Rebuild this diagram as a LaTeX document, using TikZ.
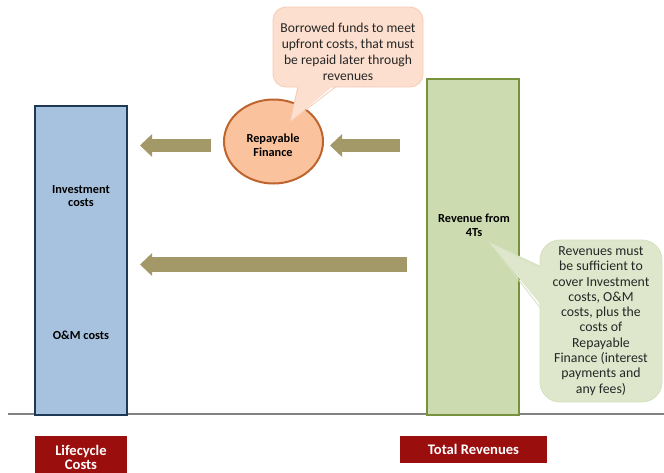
\documentclass[tikz,border=0pt]{standalone}
\usepackage{fontspec}
\setmainfont{Carlito}
\usetikzlibrary{arrows.meta,shapes.geometric}

\definecolor{costblue}{RGB}{167,194,222}
\definecolor{costedge}{RGB}{31,56,87}
\definecolor{revgreen}{RGB}{205,219,176}
\definecolor{revedge}{RGB}{118,146,60}
\definecolor{finfill}{RGB}{250,195,158}
\definecolor{finedge}{RGB}{190,100,45}
\definecolor{notepeach}{RGB}{252,223,206}
\definecolor{notepeachedge}{RGB}{247,203,178}
\definecolor{notegreen}{RGB}{222,231,204}
\definecolor{notegreenedge}{RGB}{212,224,190}
\definecolor{arrowkhaki}{RGB}{163,152,104}
\definecolor{tagred}{RGB}{155,14,14}
\definecolor{groundgray}{RGB}{130,130,130}

\tikzset{
  bar/.style={draw, line width=2pt, minimum width=92pt, inner sep=0pt},
  barlabel/.style={font=\bfseries\fontsize{12.3}{13.5}\selectfont, align=center, inner sep=0pt},
  tag/.style={fill=tagred, text=white, font=\bfseries\fontsize{14.6}{14}\selectfont, align=center, inner sep=0pt},
  notetext/.style={align=center, inner sep=0pt, text=black!85},
  fatarrow/.style={draw=arrowkhaki, line width=13pt, -{Triangle[length=12pt,width=22pt]}},
}

\begin{document}
\begin{tikzpicture}[x=1pt,y=-1pt]
		%%%%% START %%%%%
		\clip (0,0) rectangle (664,472);
		
		% ground line
		\draw[groundgray, line width=1.5pt] (8,414) -- (664,414);
		
		% the two bars
		\node[bar, fill=costblue, draw=costedge, minimum height=309pt] (lifecycle) at (81,260.5) {};
		\node[bar, fill=revgreen, draw=revedge, minimum height=336pt] (revenue) at (473,247) {};
		
		\node[barlabel] (invest) at (81,196) {Investment\\costs};
		\node[barlabel] (om) at (81,335) {O\&M costs};
		\node[barlabel] (fourts) at (474,225.5) {Revenue from\\4Ts};
		
		% repayable finance
		\node[ellipse, draw=finedge, fill=finfill, line width=2pt, minimum width=99pt, minimum height=84pt, inner sep=0pt] (finance) at (273.5,141.5) {};
		\node[barlabel] (finlabel) at (273,145) {Repayable\\Finance};
		
		% arrows
		\coordinate (topin) at (400,145.5);
		\coordinate (topintip) at (330,145.5);
		\coordinate (topout) at (211,145.5);
		\coordinate (topouttip) at (140,145.5);
		\coordinate (lowout) at (407,264.5);
		\coordinate (lowouttip) at (140,264.5);
		\draw[fatarrow] (topin) -- (topintip);
		\draw[fatarrow] (topout) -- (topouttip);
		\draw[fatarrow, line width=15pt] (lowout) -- (lowouttip);
		
		% callout over the finance
		\node[draw=notepeachedge, fill=notepeach, line width=0.8pt, rounded corners=13pt, minimum width=150pt, minimum height=80pt, inner sep=0pt] (borrownote) at (348,47) {};
		\coordinate (borrowtip) at (290,122);
		\fill[notepeach] (298,84) -- (borrowtip) -- (335.5,84) -- cycle;
		\draw[notepeachedge, line width=0.8pt] (298,87) -- (borrowtip) -- (335.5,87);
		\node[notetext, font=\fontsize{13.6}{16}\selectfont] (borrowtext) at (348,52) {Borrowed funds to meet\\upfront costs, that must\\be repaid later through\\revenues};
		
		% callout at the revenue
		\node[draw=notegreenedge, fill=notegreen, line width=0.8pt, rounded corners=20pt, minimum width=122pt, minimum height=162pt, inner sep=0pt] (coverednote) at (601,321) {};
		\coordinate (coveredtip) at (489,242);
		\fill[notegreen] (543,267) -- (coveredtip) -- (543,307.5) -- cycle;
		\draw[notegreenedge, line width=0.8pt] (540,267) -- (coveredtip) -- (540,307.5);
		\node[notetext, font=\fontsize{13.8}{15.3}\selectfont] (coveredtext) at (601,321) {Revenues must\\be sufficient to\\cover Investment\\costs, O\&M\\costs, plus the\\costs of\\Repayable\\Finance (interest\\payments and\\any fees)};
		
		% tags under the ground
		\node[tag, minimum width=92pt, minimum height=46pt] (lifetag) at (81,459) {};
		\node[tag] (lifetext) at (81,457) {Lifecycle\\Costs};
		\node[tag, minimum width=147pt, minimum height=27pt] (revtag) at (473.5,449.5) {Total Revenues};
		
		%%%%% END %%%%%
\end{tikzpicture}
\end{document}
